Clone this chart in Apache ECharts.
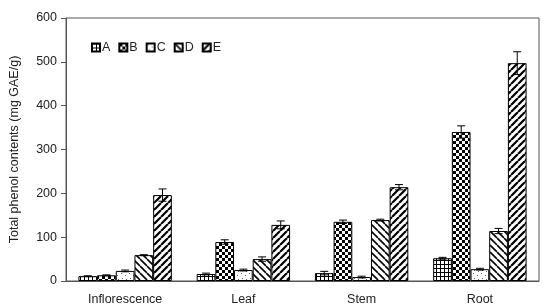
<!DOCTYPE html>
<html><head><meta charset="utf-8">
<script src="https://cdn.jsdelivr.net/npm/echarts@6/dist/echarts.min.js"></script>
<style>html,body{margin:0;padding:0;background:#fff}#c{width:550px;height:308px}</style>
</head><body><div id="c"></div>
<script>
const categories = ['Inflorescence', 'Leaf', 'Stem', 'Root'];
const seriesNames = ['A', 'B', 'C', 'D', 'E'];
const valuesA = [11, 16, 18, 52];
const valuesB = [13, 89, 135, 340];
const valuesC = [23, 25, 9, 27];
const valuesD = [59, 50, 139, 114];
const valuesE = [196, 128, 214, 497];
const errA = [1, 2, 4, 2];
const errB = [1, 5, 4, 14];
const errC = [2, 2, 2, 2];
const errD = [1, 5, 2, 6];
const errE = [14, 9, 6, 26];
const yTicks = [0, 100, 200, 300, 400, 500, 600];

const allValues = [valuesA, valuesB, valuesC, valuesD, valuesE];
const allErr = [errA, errB, errC, errD, errE];

function mk(size, draw) {
  const c = document.createElement('canvas');
  c.width = size; c.height = size;
  const g = c.getContext('2d');
  g.fillStyle = '#fff'; g.fillRect(0, 0, size, size);
  g.fillStyle = '#000'; g.strokeStyle = '#000';
  draw(g, size);
  return { image: c, repeat: 'repeat' };
}
const patterns = [
  mk(4, (g, s) => { g.fillRect(0, 0, s, 1); g.fillRect(0, 0, 1, s); }),
  mk(6, (g, s) => { g.fillRect(0, 0, 3, 3); g.fillRect(3, 3, 3, 3); }),
  mk(8, (g, s) => { g.fillStyle = '#666'; g.fillRect(1, 1, 1, 1); g.fillRect(5, 3, 1, 1); g.fillRect(2, 6, 1, 1); g.fillRect(6, 7, 1, 1); }),
  mk(7, (g, s) => { g.lineWidth = 1.6; g.beginPath();
    for (let k = -1; k <= 1; k++) { g.moveTo(k * s, 0); g.lineTo(k * s + s, s); }
    g.stroke(); }),
  mk(7, (g, s) => { g.lineWidth = 2.2; g.beginPath();
    for (let k = -1; k <= 1; k++) { g.moveTo(k * s, s); g.lineTo(k * s + s, 0); }
    g.stroke(); })
];

const barSeries = seriesNames.map((n, i) => ({
  name: n, type: 'bar', data: allValues[i],
  barGap: '0%', barCategoryGap: '21%',
  itemStyle: { color: patterns[i], borderColor: '#000', borderWidth: 1 },
  emphasis: { disabled: true }
}));

const errData = [];
allValues.forEach((vals, s) => vals.forEach((v, c) => errData.push([c, s, v, allErr[s][c]])));

const errSeries = {
  type: 'custom', z: 10, silent: true,
  data: errData,
  encode: { x: 0, y: 2 },
  renderItem: function (params, api) {
    const c = api.value(0), s = api.value(1), v = api.value(2), e = api.value(3);
    const band = api.size([1, 0])[0];
    const bw = band * 0.79 / 5;
    const base = api.coord([c, v]);
    const x = base[0] + (s - 2) * bw;
    const yt = api.coord([c, v + e])[1];
    const yb = api.coord([c, v - e])[1];
    const h = 4;
    const st = { stroke: '#000', lineWidth: 1 };
    return { type: 'group', children: [
      { type: 'line', shape: { x1: x, y1: yt, x2: x, y2: yb }, style: st },
      { type: 'line', shape: { x1: x - h, y1: yt, x2: x + h, y2: yt }, style: st },
      { type: 'line', shape: { x1: x - h, y1: yb, x2: x + h, y2: yb }, style: st }
    ]};
  }
};

const chart = echarts.init(document.getElementById('c'), null, { renderer: 'canvas' });
chart.setOption({
  animation: false,
  textStyle: { fontFamily: 'Liberation Sans, Arial, sans-serif' },
  grid: { left: 62, right: 11, top: 18, bottom: 27, show: true, borderColor: '#555', borderWidth: 1 },
  legend: {
    data: seriesNames, left: 86, top: 36, itemWidth: 8, itemHeight: 8, itemGap: 8,
    icon: 'rect',
    textStyle: { fontSize: 12.5, color: '#222', padding: [0, 0, 0, -3] }
  },
  xAxis: {
    type: 'category', data: categories,
    axisLine: { lineStyle: { color: '#555' } },
    axisTick: { show: false },
    axisLabel: { fontSize: 12.5, color: '#222', margin: 12 }
  },
  yAxis: {
    type: 'value', min: yTicks[0], max: yTicks[yTicks.length - 1], interval: 100,
    name: 'Total phenol contents (mg GAE/g)', nameLocation: 'middle', nameGap: 45,
    nameTextStyle: { fontSize: 12.5, color: '#222' },
    axisLine: { show: true, lineStyle: { color: '#555' } },
    axisTick: { show: true, inside: false, length: 5, lineStyle: { color: '#555' } },
    splitLine: { show: false },
    axisLabel: { fontSize: 12.5, color: '#222', margin: 9 }
  },
  series: barSeries.concat([errSeries])
});
</script></body></html>
